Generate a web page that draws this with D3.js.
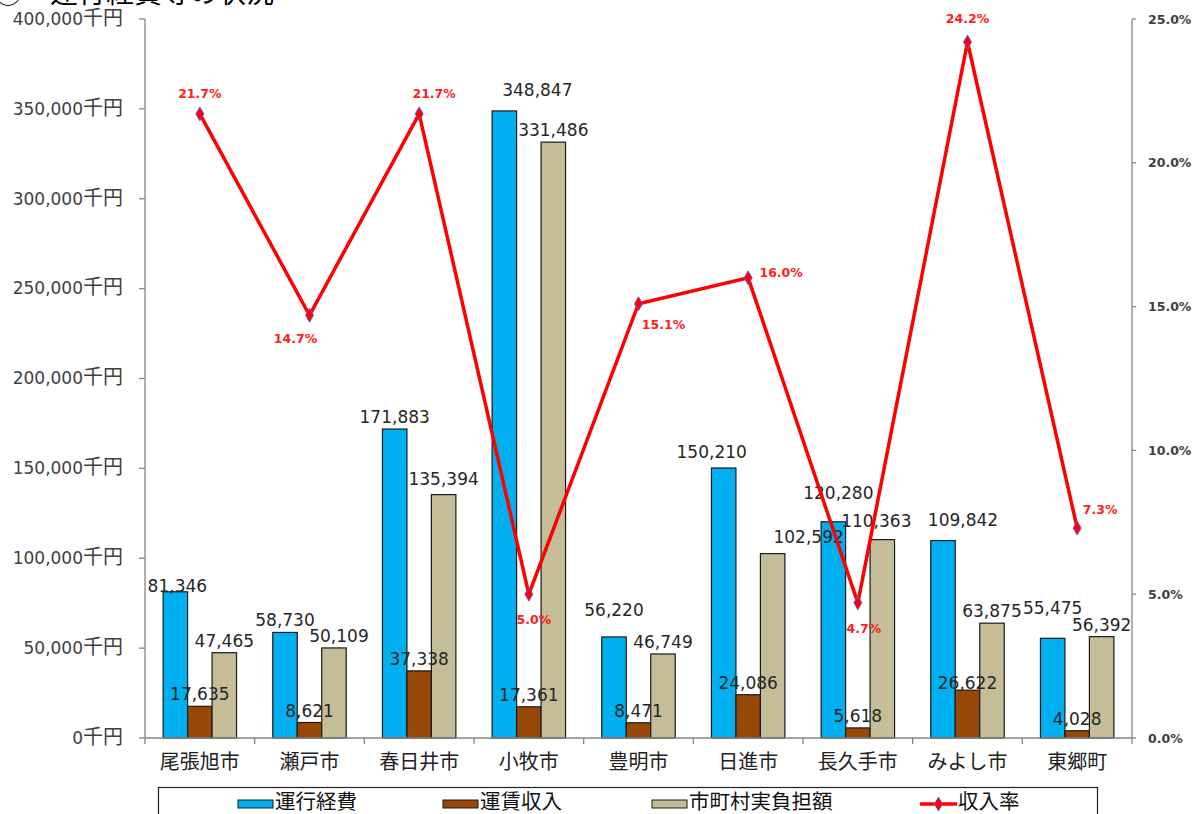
<!DOCTYPE html>
<html><head><meta charset="utf-8">
<script src="https://cdn.jsdelivr.net/npm/d3@7"></script>
<style>
body{margin:0;background:#fff;}
svg{display:block;}
text{font-family:"DejaVu Sans","Noto Sans CJK JP",sans-serif;}
.cjk{font-family:"Noto Sans CJK JP","DejaVu Sans",sans-serif;}
</style></head>
<body>
<svg id="chart" width="1193" height="814"></svg>
<script>
const categories = ["尾張旭市","瀬戸市","春日井市","小牧市","豊明市","日進市","長久手市","みよし市","東郷町"];
const seriesNames = ["運行経費","運賃収入","市町村実負担額"];
const operatingCost = [81346,58730,171883,348847,56220,150210,120280,109842,55475];
const fareRevenue   = [17635,8621,37338,17361,8471,24086,5618,26622,4028];
const localBurden   = [47465,50109,135394,331486,46749,102592,110363,63875,56392];
const revenueRate   = [21.7,14.7,21.7,5.0,15.1,16.0,4.7,24.2,7.3];
const lineName = "収入率";
const leftTicks = [0,50000,100000,150000,200000,250000,300000,350000,400000];
const rightTicks = [0,5,10,15,20,25];
const title = "③　運行経費等の状況";

const colors = ["#00B0F0","#974706","#C4BD97"];
const seriesValues = [operatingCost, fareRevenue, localBurden];

// label position tweaks (layout only)
const barLabelShift = {"0|3":[33,-9],"0|4":[0,-15],"0|5":[-12,-4],"0|6":[5,-17],"0|8":[0,-18],"0|7":[20,-9],"1|7":[0,5],"0|0":[2,6],"2|1":[5,0],"2|2":[0,-4],"2|5":[36,-5],"2|6":[-6,-7]};
const lineLabelShift = [[0,-20],[-14,23],[15,-20],[5,25],[25,21],[33,-5],[6,26],[0,-24],[23,-19]];

const svg = d3.select("#chart");
const L = 145, R = 1132, T = 19, B = 738;

const x = d3.scaleBand().domain(categories).range([L,R]);
const xs = d3.scaleBand().domain(seriesNames).range([0,x.bandwidth()]).paddingInner(0).paddingOuter(0.74);
const yL = d3.scaleLinear().domain([0,400000]).range([B,T]);
const yR = d3.scaleLinear().domain([0,25]).range([B,T]);

// title (clipped at top)
svg.append("text").attr("class","cjk").attr("x",-6).attr("y",3).attr("font-size",28).attr("fill","#000").text(title);

const axisColor = "#868686";

// left axis
const gl = svg.append("g");
gl.append("line").attr("x1",L).attr("x2",L).attr("y1",T).attr("y2",B).attr("stroke",axisColor).attr("stroke-width",1.3);
leftTicks.forEach(t=>{
  gl.append("line").attr("x1",L-6).attr("x2",L).attr("y1",yL(t)).attr("y2",yL(t)).attr("stroke",axisColor).attr("stroke-width",1.3);
  const tx = gl.append("text").attr("x",123).attr("y",yL(t)).attr("dy","0.36em").attr("text-anchor","end").attr("fill","#404040");
  tx.append("tspan").attr("font-size",17).text(d3.format(",")(t));
  tx.append("tspan").attr("class","cjk").attr("font-size",20).text("千円");
});

// right axis
const gr = svg.append("g");
gr.append("line").attr("x1",R).attr("x2",R).attr("y1",T).attr("y2",B).attr("stroke",axisColor).attr("stroke-width",1.3);
rightTicks.forEach(t=>{
  gr.append("line").attr("x1",R).attr("x2",R+4).attr("y1",yR(t)).attr("y2",yR(t)).attr("stroke",axisColor).attr("stroke-width",1.3);
  gr.append("text").attr("x",1148).attr("y",yR(t)).attr("dy","0.36em").attr("font-size",12.5).attr("font-weight","bold").attr("fill","#404040").text(t.toFixed(1)+"%");
});

// bars
seriesNames.forEach((s,si)=>{
  svg.append("g").selectAll("rect").data(categories).join("rect")
    .attr("x",c=>x(c)+xs(s)).attr("width",xs.bandwidth())
    .attr("y",(c,i)=>yL(seriesValues[si][i])).attr("height",(c,i)=>B-yL(seriesValues[si][i]))
    .attr("fill",colors[si]).attr("stroke","#1a1a1a").attr("stroke-width",1.2);
});

// bottom axis
const gb = svg.append("g");
gb.append("line").attr("x1",L).attr("x2",R).attr("y1",B).attr("y2",B).attr("stroke",axisColor).attr("stroke-width",1.3);
categories.forEach((c,i)=>{
  gb.append("line").attr("x1",x(c)).attr("x2",x(c)).attr("y1",B).attr("y2",B+6).attr("stroke",axisColor).attr("stroke-width",1.3);
  gb.append("text").attr("class","cjk").attr("x",x(c)+x.bandwidth()/2).attr("y",769).attr("text-anchor","middle").attr("font-size",20).attr("fill","#222").text(c);
});
gb.append("line").attr("x1",R).attr("x2",R).attr("y1",B).attr("y2",B+6).attr("stroke",axisColor).attr("stroke-width",1.3);

// bar labels
seriesNames.forEach((s,si)=>{
  categories.forEach((c,i)=>{
    const sh = barLabelShift[si+"|"+i] || [0,0];
    svg.append("text").attr("x",x(c)+xs(s)+xs.bandwidth()/2+sh[0]).attr("y",yL(seriesValues[si][i])-6+sh[1])
      .attr("text-anchor","middle").attr("font-size",17).attr("fill","#262626").text(d3.format(",")(seriesValues[si][i]));
  });
});

// line
const cx = c=>x(c)+x.bandwidth()/2;
const line = d3.line().x((d,i)=>cx(categories[i])).y(d=>yR(d));
svg.append("path").datum(revenueRate).attr("d",line).attr("fill","none").attr("stroke","#FF0000").attr("stroke-width",3.5).attr("stroke-linejoin","miter");
const diamond = d3.symbol().type(d3.symbolDiamond).size(55);
svg.append("g").selectAll("path").data(revenueRate).join("path")
  .attr("d",diamond).attr("transform",(d,i)=>`translate(${cx(categories[i])},${yR(d)})`)
  .attr("fill","#FF0000").attr("stroke","#6a5acd").attr("stroke-width",1);
revenueRate.forEach((d,i)=>{
  svg.append("text").attr("x",cx(categories[i])+lineLabelShift[i][0]).attr("y",yR(d)+lineLabelShift[i][1]).attr("dy","0.36em")
    .attr("text-anchor","middle").attr("font-size",12.5).attr("font-weight","bold").attr("fill","#FF2020").text(d.toFixed(1)+"%");
});

// legend
const lg = svg.append("g");
lg.append("rect").attr("x",158.5).attr("y",787.5).attr("width",939).attr("height",40).attr("fill","#fff").attr("stroke","#222").attr("stroke-width",1.2);
const swX = [238,443,652];
seriesNames.forEach((s,si)=>{
  lg.append("rect").attr("x",swX[si]).attr("y",800).attr("width",35).attr("height",8).attr("fill",colors[si]).attr("stroke","#1a1a1a").attr("stroke-width",1);
  lg.append("text").attr("class","cjk").attr("x",swX[si]+37).attr("y",802).attr("dy","0.36em").attr("font-size",20.5).attr("fill","#111").text(s);
});
lg.append("line").attr("x1",920).attr("x2",957).attr("y1",804).attr("y2",804).attr("stroke","#FF0000").attr("stroke-width",3.5);
lg.append("path").attr("d",diamond).attr("transform","translate(938.5,804)").attr("fill","#FF0000").attr("stroke","#6a5acd").attr("stroke-width",1);
lg.append("text").attr("class","cjk").attr("x",958).attr("y",802).attr("dy","0.36em").attr("font-size",20.5).attr("fill","#111").text(lineName);
</script>
</body></html>
